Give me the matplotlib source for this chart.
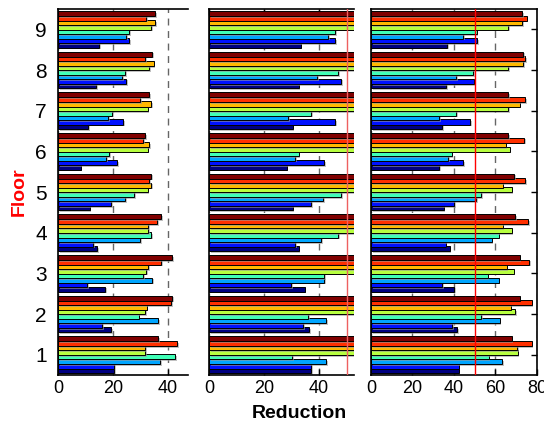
import numpy as np
import matplotlib
matplotlib.use('Agg')
import matplotlib.pyplot as plt
import matplotlib.patheffects as pe

plt.rcParams['font.family'] = ['Liberation Sans', 'DejaVu Sans']

floors = [1, 2, 3, 4, 5, 6, 7, 8, 9]

# each row is one series (bottom bar -> top bar in a group), columns are floors 1..9
left_vals = [
    [20.4, 19.4, 17.3, 14.3, 11.5, 8.3, 11.1, 14.0, 14.9],
    [20.4, 16.2, 10.6, 12.8, 19.4, 21.5, 23.8, 24.9, 25.9],
    [37.2, 36.6, 34.4, 29.9, 24.4, 17.6, 18.2, 23.3, 24.9],
    [42.8, 29.4, 31.0, 33.9, 27.7, 18.6, 19.8, 24.4, 25.9],
    [31.7, 31.7, 32.1, 32.8, 32.7, 32.7, 32.7, 33.2, 34.0],
    [31.7, 32.3, 32.8, 32.8, 33.9, 33.3, 33.9, 34.9, 35.5],
    [43.4, 41.2, 37.7, 36.1, 33.3, 31.0, 30.0, 31.7, 32.2],
    [36.6, 41.6, 41.6, 37.7, 34.0, 31.8, 33.3, 34.4, 35.5],
]

mid_vals = [
    [37.1, 36.5, 34.8, 32.6, 30.4, 28.2, 30.4, 32.6, 33.3],
    [37.1, 34.3, 29.8, 31.4, 37.2, 41.9, 45.9, 48.1, 45.9],
    [42.7, 42.7, 41.9, 40.8, 41.6, 31.4, 28.8, 39.3, 43.2],
    [30.3, 36.1, 41.9, 47.0, 48.1, 32.6, 37.2, 47.0, 45.8],
    [56.0, 57.0, 58.0, 56.0, 57.0, 55.0, 56.0, 54.0, 55.0],
    [58.0, 58.0, 59.0, 57.0, 58.0, 57.0, 58.0, 56.0, 57.0],
    [60.0, 60.0, 61.0, 59.0, 59.0, 58.0, 59.0, 58.0, 59.0],
    [58.0, 59.0, 60.0, 58.0, 58.0, 57.0, 58.0, 57.0, 58.0],
]

right_vals = [
    [42.2, 41.6, 40.0, 37.9, 35.0, 32.8, 34.4, 36.2, 36.6],
    [42.2, 39.0, 34.4, 36.0, 40.0, 44.5, 47.7, 49.8, 51.2],
    [63.4, 62.1, 61.6, 58.2, 50.6, 37.3, 32.8, 41.1, 44.3],
    [56.8, 53.0, 56.3, 61.6, 53.0, 38.9, 41.1, 49.1, 51.0],
    [70.7, 69.4, 68.8, 67.8, 67.8, 66.9, 66.2, 66.2, 66.2],
    [70.6, 67.4, 65.4, 63.5, 63.5, 65.0, 71.7, 73.4, 72.8],
    [77.4, 77.4, 76.2, 75.7, 74.4, 73.9, 74.4, 74.4, 75.0],
    [67.8, 71.7, 71.7, 69.6, 69.1, 66.1, 66.1, 73.3, 72.8],
]

colors = plt.cm.jet(np.linspace(0, 1, 8))

fig = plt.figure(figsize=(5.44, 4.25), dpi=100)
bottom = 0.1176
height = 0.861
ax1 = fig.add_axes([0.1066, bottom, 0.239, height])
ax2 = fig.add_axes([0.3842, bottom, 0.2665, height])
ax3 = fig.add_axes([0.682, bottom, 0.305, height])

y = np.array(floors, dtype=float)
step = 0.111
shadow = [pe.SimplePatchShadow(offset=(1.2, -1.2), shadow_rgbFace='#999999', alpha=0.6),
          pe.Normal()]


def draw(ax, vals, xmax, ticks):
    for i, row in enumerate(vals):
        bars = ax.barh(y + (i - 3.5) * step, row, height=0.125, color=colors[i],
                       edgecolor='black', linewidth=0.7, zorder=2)
        for b in bars:
            b.set_path_effects(shadow)
    ax.set_xlim(0, xmax)
    ax.set_ylim(0.5, 9.5)
    ax.set_xticks(ticks)
    ax.set_yticks(floors)
    ax.grid(axis='x', color='#666666', linestyle=(0, (5, 4)), linewidth=1.0, zorder=1)
    ax.tick_params(direction='in', labelsize=13, length=4, width=1)
    for s in ax.spines.values():
        s.set_linewidth(1.2)
    ax.spines['right'].set_visible(False)


draw(ax1, left_vals, 47.4, [0, 20, 40])
ax1.set_yticklabels([str(f) for f in floors], fontsize=15)
ax1.tick_params(axis='y', pad=8)

draw(ax2, mid_vals, 52.7, [0, 20, 40])
ax2.set_yticklabels([])
ax2.tick_params(axis='y', left=False)
ax2.tick_params(axis='x', top=True)
ax2.axvline(50, color='#ee6060', linewidth=1.0, zorder=3)

draw(ax3, right_vals, 80, [0, 20, 40, 60, 80])
ax3.spines['right'].set_visible(True)
ax3.set_yticklabels([])
ax3.tick_params(axis='y', left=False, right=True)
ax3.axvline(50, color='red', linewidth=1.0, zorder=3)

fig.text(0.035, 0.55, 'Floor', color='red', fontsize=14, fontweight='bold',
         rotation=90, ha='center', va='center')
fig.text(0.55, 0.028, 'Reduction', color='black', fontsize=14, fontweight='bold',
         ha='center', va='center')

fig.savefig('out.png', dpi=100)
